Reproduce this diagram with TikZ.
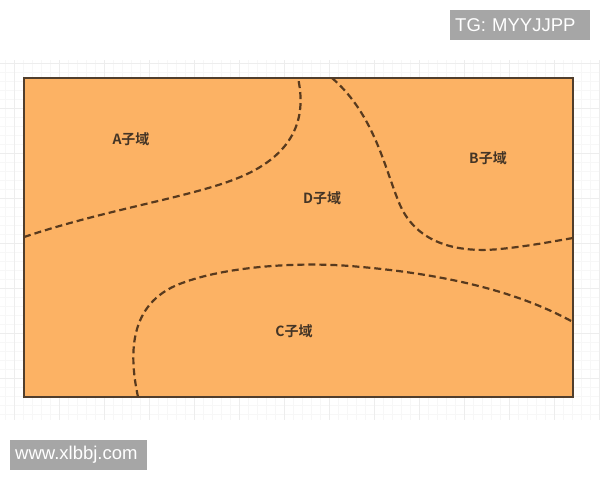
\documentclass[tikz,border=0pt]{standalone}
\usepackage{fontspec}
\setmainfont{Liberation Sans}
\newfontfamily\cjkbold{Noto Sans CJK SC Bold}
\usetikzlibrary{backgrounds,positioning}
\definecolor{domainfill}{RGB}{252,178,100}
\definecolor{domainline}{RGB}{80,62,45}
\definecolor{dashline}{RGB}{88,58,30}
\definecolor{markgray}{RGB}{166,166,166}

\begin{document}
\begin{tikzpicture}[x=1pt,y=-1pt,
        region/.style={font=\cjkbold\fontsize{14}{16}\selectfont,text=domainline!85!black},%labels of the sub domains
        border/.style={dashline,dash pattern=on 7pt off 4pt,line width=2.2pt},
        stamp/.style={fill=markgray,text=white,font=\fontsize{18.5}{20}\selectfont,inner xsep=5pt,inner ysep=0pt,minimum height=30pt,align=left,anchor=north west}]
\useasboundingbox (0,0) rectangle (600,480);
\begin{scope}[on background layer]
\fill[white] (0,0) rectangle (600,480);
\foreach \gx in {5,14,...,600} \draw[black!3,line width=0.4pt] (\gx,60) -- (\gx,420); %minor grid
\foreach \gy in {63,72,...,420} \draw[black!3,line width=0.4pt] (0,\gy) -- (600,\gy);
\foreach \gx in {14,59,...,600} \draw[black!7,line width=0.7pt] (\gx,60) -- (\gx,420); %major grid
\foreach \gy in {63,108,...,420} \draw[black!7,line width=0.7pt] (0,\gy) -- (600,\gy);
\end{scope}
\draw[fill=domainfill,draw=domainline,line width=1.4pt] (24,78) rectangle (573,397);
\begin{scope}
\clip (24,78) rectangle (573,397);
% A / D
\draw[border] (24,237) .. controls (120,205) and (210,195) .. (255,170)
  .. controls (300,145) and (305,110) .. (298,78);
% B / D
\draw[border] (332,78) .. controls (375,115) and (385,170) .. (400,205)
  .. controls (420,250) and (470,252) .. (500,249) .. controls (530,246) and (555,241) .. (573,238);
% C / D
\draw[border] (138,397) .. controls (128,350) and (130,300) .. (185,282)
  .. controls (230,266) and (300,262) .. (350,266) .. controls (450,274) and (520,293) .. (573,322);
\end{scope}
\node[region] (A) at (131,139) {A子域};
\node[region] (B) at (488,158) {B子域};
\node[region] (D) at (322,198) {D子域};
\node[region] (C) at (294,331) {C子域};
\node[stamp,text width=130pt] (tg) at (450,10) {TG: MYYJJPP};
\node[stamp,text width=127pt] (web) at (10,440) {www.xlbbj.com};
\end{tikzpicture}
\end{document}
